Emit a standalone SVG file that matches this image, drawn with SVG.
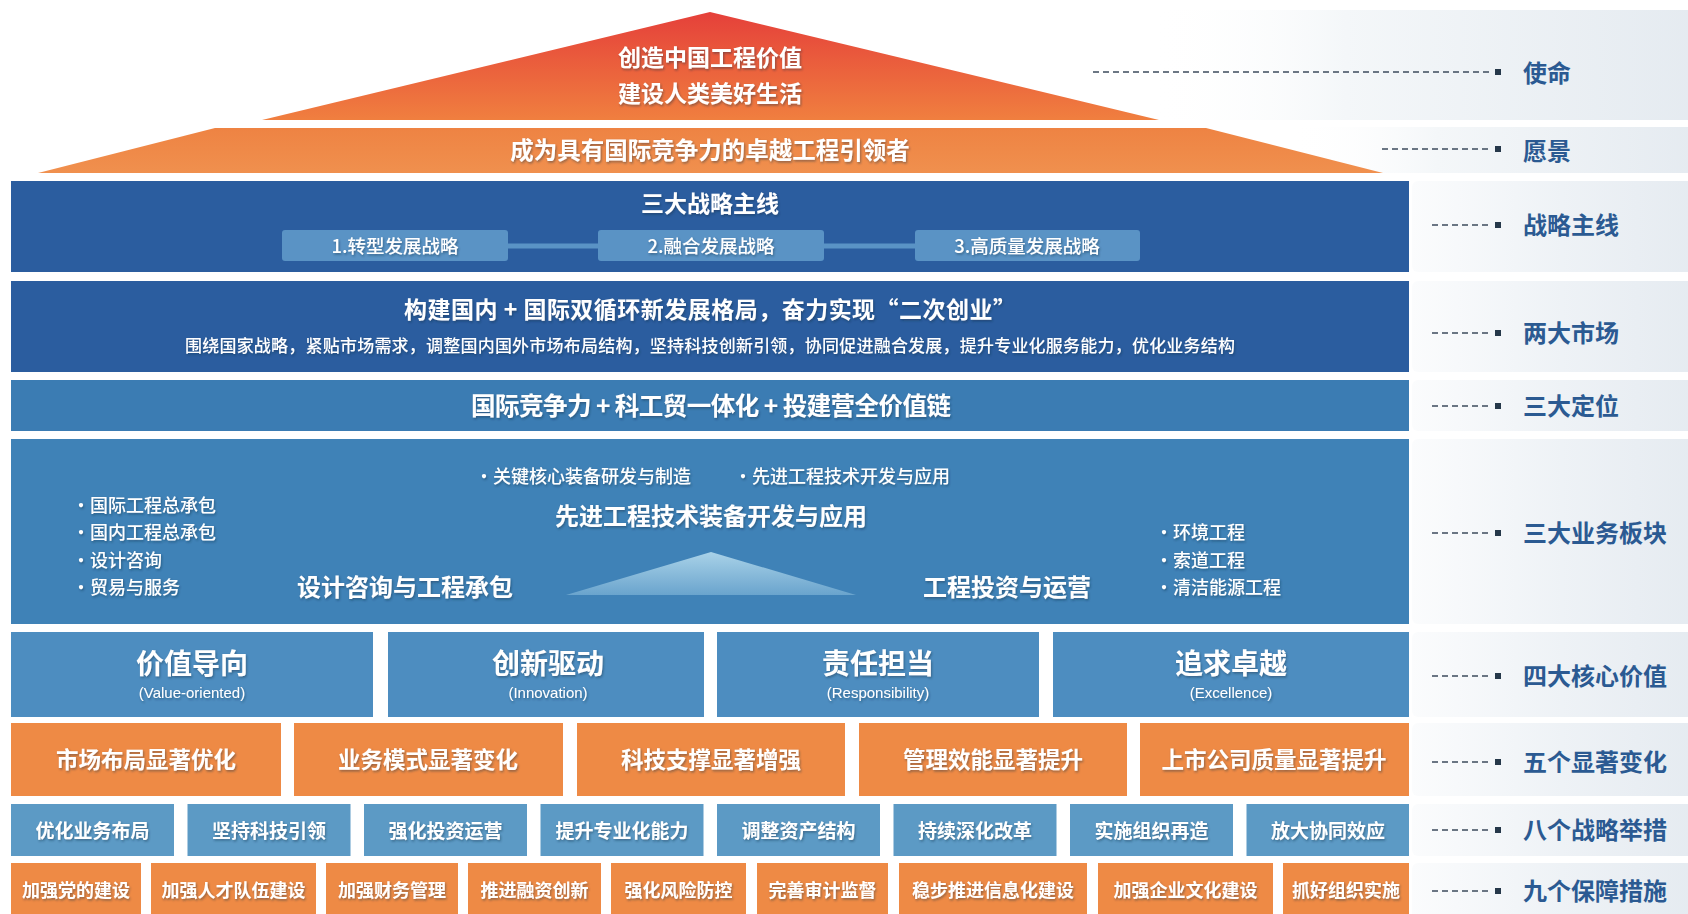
<svg xmlns="http://www.w3.org/2000/svg" width="1688" height="914" viewBox="0 0 1688 914">
<defs>
<linearGradient id="gMission" x1="0" y1="0" x2="0" y2="1">
<stop offset="0" stop-color="#e5403a"/>
<stop offset="1" stop-color="#f07f3f"/>
</linearGradient>
<linearGradient id="gVision" x1="0" y1="0" x2="0" y2="1">
<stop offset="0" stop-color="#ee8343"/>
<stop offset="1" stop-color="#f0904e"/>
</linearGradient>
<linearGradient id="gPanel" x1="0" y1="0" x2="1" y2="0">
<stop offset="0" stop-color="#fbfcfd"/>
<stop offset="0.5" stop-color="#eef2f6"/>
<stop offset="1" stop-color="#e4eaf0"/>
</linearGradient>
<linearGradient id="gPanelTop" x1="0" y1="0" x2="1" y2="0">
<stop offset="0" stop-color="#ffffff" stop-opacity="0"/>
<stop offset="0.35" stop-color="#f4f7f9"/>
<stop offset="1" stop-color="#e4eaf0"/>
</linearGradient>
<linearGradient id="gTri" x1="0" y1="0" x2="0" y2="1">
<stop offset="0" stop-color="#a9d2e8"/>
<stop offset="1" stop-color="#6aa4cd"/>
</linearGradient>
<filter id="ts" x="-5%" y="-30%" width="110%" height="160%">
<feDropShadow dx="1" dy="1.5" stdDeviation="0.8" flood-color="#1a2a40" flood-opacity="0.45"/>
</filter>
</defs>
<style>
text{font-family:"Noto Sans CJK SC","Noto Sans",sans-serif;dominant-baseline:central;}
.w{fill:#ffffff;font-weight:700;filter:url(#ts);}
.n{font-weight:500;}
.c{text-anchor:middle;}
.lbl{fill:#2b5a92;font-weight:700;font-size:24px;}
.en{font-family:"Liberation Sans","Noto Sans",sans-serif;font-weight:400;font-size:15px;}
.b1{fill:#2b5d9f;}
.b3{fill:#3b7cb3;}
.b4{fill:#3f82b7;}
.val{fill:#4d8dc0;}
.org{fill:#ee8a45;}
.r8{fill:#5c9ac5;}
.sub{fill:#5a93c5;}
.panel{fill:url(#gPanel);}
.dash{stroke:#3c4b5c;stroke-width:1.5;stroke-dasharray:6 4;fill:none;}
.sq{fill:#26384a;}
.link{stroke:#5a93c5;stroke-width:5;}
</style>
<rect x="0" y="0" width="1688" height="914" fill="#ffffff"/>
<g id="panels">
<rect x="1150" y="10" width="560" height="110" rx="6" fill="url(#gPanelTop)"/>
<rect x="1290" y="127" width="420" height="46" rx="6" fill="url(#gPanelTop)"/>
<rect x="1412" y="181" width="300" height="91" rx="6" class="panel"/>
<rect x="1412" y="281" width="300" height="91" rx="6" class="panel"/>
<rect x="1412" y="380" width="300" height="51" rx="6" class="panel"/>
<rect x="1412" y="439" width="300" height="185" rx="6" class="panel"/>
<rect x="1412" y="632" width="300" height="85" rx="6" class="panel"/>
<rect x="1412" y="723" width="300" height="73" rx="6" class="panel"/>
<rect x="1412" y="804" width="300" height="52" rx="6" class="panel"/>
<rect x="1412" y="863" width="300" height="60" rx="6" class="panel"/>
</g>
<g id="mission">
<polygon points="710,12 262,120 1159,120" fill="url(#gMission)"/>
<text class="w c" x="710" y="56" font-size="23">创造中国工程价值</text>
<text class="w c" x="710" y="92" font-size="23">建设人类美好生活</text>
</g>
<g id="vision">
<polygon points="215,128 1206,128 1383,173 38,173" fill="url(#gVision)"/>
<text class="w c" x="710" y="149" font-size="23.5">成为具有国际竞争力的卓越工程引领者</text>
</g>
<g id="strategy">
<rect x="11" y="181" width="1398" height="91" class="b1"/>
<text class="w c" x="710" y="202" font-size="23">三大战略主线</text>
</g>
<g id="s1">
<rect x="282" y="230" width="226" height="31" rx="3" class="sub"/>
<text class="w c n" x="395" y="245" font-size="18.5">1.转型发展战略</text>
</g>
<g id="s2">
<rect x="598" y="230" width="226" height="31" rx="3" class="sub"/>
<text class="w c n" x="711" y="245" font-size="18.5">2.融合发展战略</text>
</g>
<g id="s3">
<rect x="915" y="230" width="225" height="31" rx="3" class="sub"/>
<text class="w c n" x="1027" y="245" font-size="18.5">3.高质量发展战略</text>
</g>
<g id="markets">
<rect x="11" y="281" width="1398" height="91" class="b1"/>
<text class="w c" x="710" y="308" font-size="23" textLength="612" lengthAdjust="spacing">构建国内 + 国际双循环新发展格局，奋力实现“二次创业”</text>
<text class="w c n" x="710" y="344" font-size="17" textLength="1050" lengthAdjust="spacing">围绕国家战略，紧贴市场需求，调整国内国外市场布局结构，坚持科技创新引领，协同促进融合发展，提升专业化服务能力，优化业务结构</text>
</g>
<g id="positioning">
<rect x="11" y="380" width="1398" height="51" class="b3"/>
<text class="w c" x="711" y="404" font-size="24.5" textLength="480" lengthAdjust="spacing">国际竞争力 + 科工贸一体化 + 投建营全价值链</text>
</g>
<g id="business">
<rect x="11" y="439" width="1398" height="185" class="b4"/>
<polygon points="711,552 566,595 856,595" fill="url(#gTri)"/>
<text class="w n" x="475" y="475" font-size="18">•关键核心装备研发与制造</text>
<text class="w n" x="734" y="475" font-size="18">•先进工程技术开发与应用</text>
<text class="w c" x="711" y="514" font-size="24">先进工程技术装备开发与应用</text>
<text class="w n" x="72" y="504" font-size="18">•国际工程总承包</text>
<text class="w n" x="72" y="531" font-size="18">•国内工程总承包</text>
<text class="w n" x="72" y="559" font-size="18">•设计咨询</text>
<text class="w n" x="72" y="586" font-size="18">•贸易与服务</text>
<text class="w c" x="405" y="585" font-size="24">设计咨询与工程承包</text>
<text class="w c" x="1007" y="585" font-size="24">工程投资与运营</text>
<text class="w n" x="1155" y="531" font-size="18">•环境工程</text>
<text class="w n" x="1155" y="559" font-size="18">•索道工程</text>
<text class="w n" x="1155" y="586" font-size="18">•清洁能源工程</text>
</g>
<g id="v1">
<rect x="11" y="632" width="362" height="85" class="val"/>
<text class="w c" x="192" y="662" font-size="28">价值导向</text>
<text class="w c en" x="192" y="692">(Value-oriented)</text>
</g>
<g id="v2">
<rect x="388" y="632" width="316" height="85" class="val"/>
<text class="w c" x="548" y="662" font-size="28">创新驱动</text>
<text class="w c en" x="548" y="692">(Innovation)</text>
</g>
<g id="v3">
<rect x="717" y="632" width="322" height="85" class="val"/>
<text class="w c" x="878" y="662" font-size="28">责任担当</text>
<text class="w c en" x="878" y="692">(Responsibility)</text>
</g>
<g id="v4">
<rect x="1053" y="632" width="356" height="85" class="val"/>
<text class="w c" x="1231" y="662" font-size="28">追求卓越</text>
<text class="w c en" x="1231" y="692">(Excellence)</text>
</g>
<g id="c1"><rect x="11" y="723" width="270" height="73" class="org"/><text class="w c" x="146" y="758" font-size="22.5">市场布局显著优化</text></g>
<g id="c2"><rect x="294" y="723" width="269" height="73" class="org"/><text class="w c" x="428" y="758" font-size="22.5">业务模式显著变化</text></g>
<g id="c3"><rect x="577" y="723" width="268" height="73" class="org"/><text class="w c" x="711" y="758" font-size="22.5">科技支撑显著增强</text></g>
<g id="c4"><rect x="859" y="723" width="268" height="73" class="org"/><text class="w c" x="993" y="758" font-size="22.5">管理效能显著提升</text></g>
<g id="c5"><rect x="1140" y="723" width="269" height="73" class="org"/><text class="w c" x="1274" y="758" font-size="22.5">上市公司质量显著提升</text></g>
<g id="m1"><rect x="11" y="804" width="163" height="52" class="r8"/><text class="w c" x="92.5" y="829" font-size="19">优化业务布局</text></g>
<g id="m2"><rect x="187.5" y="804" width="163" height="52" class="r8"/><text class="w c" x="269" y="829" font-size="19">坚持科技引领</text></g>
<g id="m3"><rect x="364" y="804" width="163" height="52" class="r8"/><text class="w c" x="445.5" y="829" font-size="19">强化投资运营</text></g>
<g id="m4"><rect x="540.5" y="804" width="163" height="52" class="r8"/><text class="w c" x="622" y="829" font-size="19">提升专业化能力</text></g>
<g id="m5"><rect x="717" y="804" width="163" height="52" class="r8"/><text class="w c" x="798.5" y="829" font-size="19">调整资产结构</text></g>
<g id="m6"><rect x="893.5" y="804" width="163" height="52" class="r8"/><text class="w c" x="975" y="829" font-size="19">持续深化改革</text></g>
<g id="m7"><rect x="1070" y="804" width="163" height="52" class="r8"/><text class="w c" x="1151.5" y="829" font-size="19">实施组织再造</text></g>
<g id="m8"><rect x="1246.5" y="804" width="162.5" height="52" class="r8"/><text class="w c" x="1328" y="829" font-size="19">放大协同效应</text></g>
<g id="g1"><rect x="11" y="863" width="130" height="55" class="org"/><text class="w c" x="76" y="889" font-size="18">加强党的建设</text></g>
<g id="g2"><rect x="151" y="863" width="165" height="55" class="org"/><text class="w c" x="233.5" y="889" font-size="18">加强人才队伍建设</text></g>
<g id="g3"><rect x="326" y="863" width="132" height="55" class="org"/><text class="w c" x="392" y="889" font-size="18">加强财务管理</text></g>
<g id="g4"><rect x="468" y="863" width="133" height="55" class="org"/><text class="w c" x="534.5" y="889" font-size="18">推进融资创新</text></g>
<g id="g5"><rect x="611" y="863" width="135" height="55" class="org"/><text class="w c" x="678.5" y="889" font-size="18">强化风险防控</text></g>
<g id="g6"><rect x="757" y="863" width="131" height="55" class="org"/><text class="w c" x="822.5" y="889" font-size="18">完善审计监督</text></g>
<g id="g7"><rect x="899" y="863" width="188" height="55" class="org"/><text class="w c" x="993" y="889" font-size="18">稳步推进信息化建设</text></g>
<g id="g8"><rect x="1098" y="863" width="175" height="55" class="org"/><text class="w c" x="1185.5" y="889" font-size="18">加强企业文化建设</text></g>
<g id="g9"><rect x="1283" y="863" width="126" height="55" class="org"/><text class="w c" x="1346" y="889" font-size="18">抓好组织实施</text></g>
<g id="labels">
<text class="lbl" x="1523" y="71">使命</text>
<text class="lbl" x="1523" y="149">愿景</text>
<text class="lbl" x="1523" y="223">战略主线</text>
<text class="lbl" x="1523" y="331">两大市场</text>
<text class="lbl" x="1523" y="404">三大定位</text>
<text class="lbl" x="1523" y="531">三大业务板块</text>
<text class="lbl" x="1523" y="674">四大核心价值</text>
<text class="lbl" x="1523" y="760">五个显著变化</text>
<text class="lbl" x="1523" y="828">八个战略举措</text>
<text class="lbl" x="1523" y="889">九个保障措施</text>
</g>
<g id="connectors">
<line class="link" x1="508" y1="246" x2="598" y2="246"/>
<line class="link" x1="824" y1="246" x2="915" y2="246"/>
<line class="dash" x1="1093" y1="72" x2="1492" y2="72"/><rect class="sq" x="1495" y="69" width="6" height="6"/>
<line class="dash" x1="1382" y1="149" x2="1492" y2="149"/><rect class="sq" x="1495" y="146" width="6" height="6"/>
<line class="dash" x1="1432" y1="225" x2="1492" y2="225"/><rect class="sq" x="1495" y="222" width="6" height="6"/>
<line class="dash" x1="1432" y1="333" x2="1492" y2="333"/><rect class="sq" x="1495" y="330" width="6" height="6"/>
<line class="dash" x1="1432" y1="406" x2="1492" y2="406"/><rect class="sq" x="1495" y="403" width="6" height="6"/>
<line class="dash" x1="1432" y1="533" x2="1492" y2="533"/><rect class="sq" x="1495" y="530" width="6" height="6"/>
<line class="dash" x1="1432" y1="676" x2="1492" y2="676"/><rect class="sq" x="1495" y="673" width="6" height="6"/>
<line class="dash" x1="1432" y1="762" x2="1492" y2="762"/><rect class="sq" x="1495" y="759" width="6" height="6"/>
<line class="dash" x1="1432" y1="830" x2="1492" y2="830"/><rect class="sq" x="1495" y="827" width="6" height="6"/>
<line class="dash" x1="1432" y1="891" x2="1492" y2="891"/><rect class="sq" x="1495" y="888" width="6" height="6"/>
</g>
</svg>
